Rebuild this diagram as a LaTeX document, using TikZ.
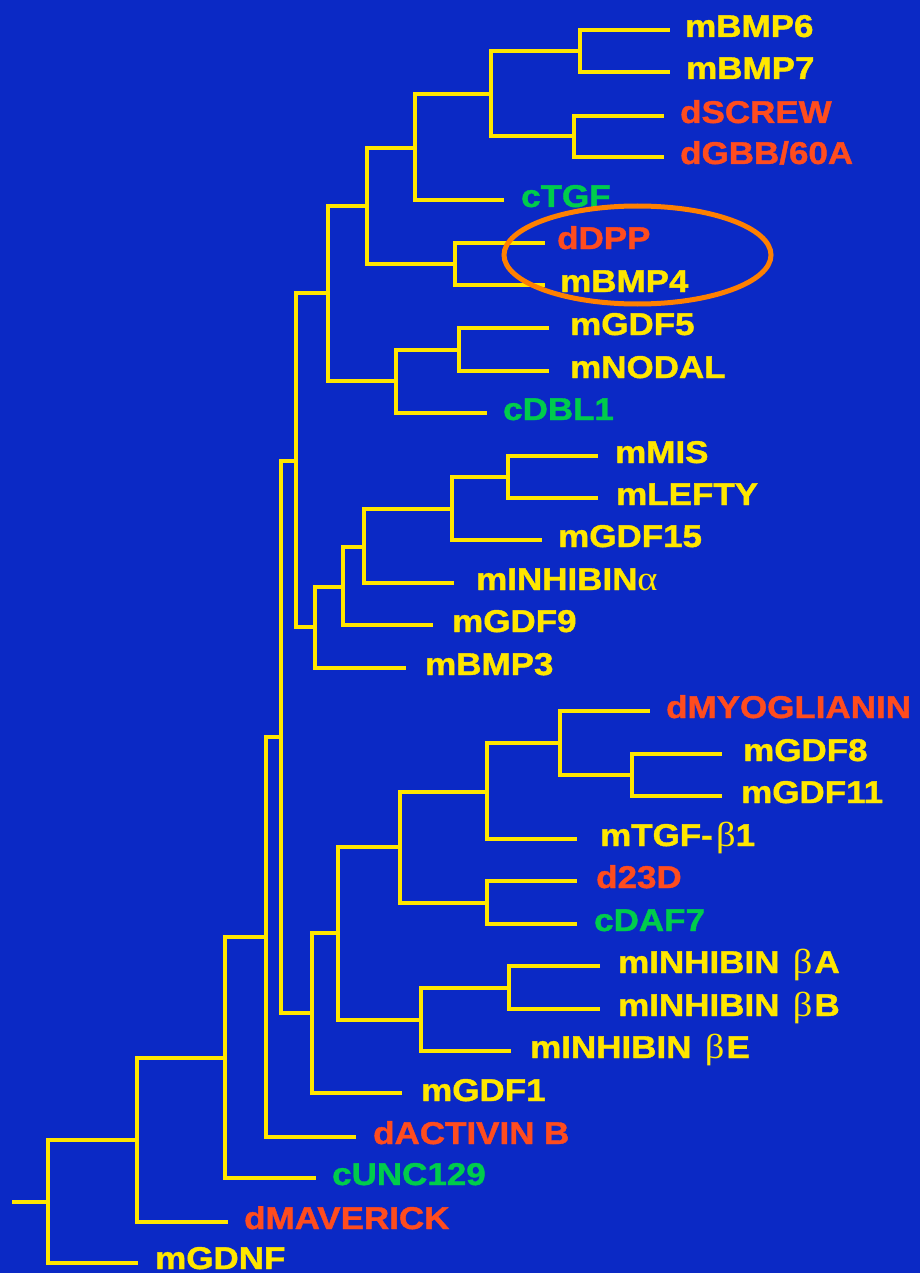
\documentclass[tikz,border=0pt]{standalone}
\usepackage{fontspec}
\setmainfont{Liberation Sans}[BoldFeatures={FakeBold=1.2}]
\newfontfamily\grk{Liberation Serif}[Scale=1.1]
\usepackage{graphicx}
\definecolor{bgblue}{RGB}{11,41,197}
\definecolor{ylw}{RGB}{255,230,0}
\definecolor{redl}{RGB}{255,76,30}
\definecolor{grn}{RGB}{0,204,76}
\definecolor{orng}{RGB}{255,128,0}
\newcommand{\lbl}[1]{\scalebox{1.11}[1]{#1}}
\newcommand{\gk}[1]{{\mdseries\grk #1}}
\tikzset{
  br/.style={draw=ylw, line width=4pt, line join=miter},
  lab/.style={anchor=base west, inner sep=0pt, font=\bfseries\fontsize{31.5}{36}\selectfont},
  ly/.style={lab, text=ylw},
  lr/.style={lab, text=redl},
  lg/.style={lab, text=grn}
}
\begin{document}
\begin{tikzpicture}[x=1pt, y=-1pt]
\fill[bgblue] (0,0) rectangle (920,1273);
\useasboundingbox (0,0) rectangle (920,1273);
% internal nodes
\coordinate (s0) at (12,1202);
\coordinate (n0) at (48,1202);
\coordinate (nA) at (137,1140);
\coordinate (nB) at (225,1058);
\coordinate (nC) at (266,937);
\coordinate (nD) at (281,737);
\coordinate (nE) at (296,461);
\coordinate (nF) at (328,293);
\coordinate (nG) at (367,206);
\coordinate (nH) at (415,148);
\coordinate (nI) at (491,94);
\coordinate (nJ) at (580,51);
\coordinate (nK) at (574,136);
\coordinate (nL) at (455,264);
\coordinate (nM) at (396,381);
\coordinate (nN) at (459,350);
\coordinate (nO) at (315,627);
\coordinate (nP) at (343,587);
\coordinate (nQ) at (364,547);
\coordinate (nS) at (452,509);
\coordinate (nT) at (508,477);
\coordinate (nU) at (312,1013);
\coordinate (nV) at (338,933);
\coordinate (nW) at (400,847);
\coordinate (nX) at (487,792);
\coordinate (nY) at (560,743);
\coordinate (nZ) at (632,775);
\coordinate (nAA) at (487,903);
\coordinate (nAB) at (421,1020);
\coordinate (nAC) at (509,988);
% leaf ends
\coordinate (e1) at (670,30);
\coordinate (e2) at (670,72);
\coordinate (e3) at (664,116);
\coordinate (e4) at (664,157);
\coordinate (e5) at (504,200);
\coordinate (e6) at (545,243);
\coordinate (e7) at (545,285);
\coordinate (e8) at (549,328);
\coordinate (e9) at (549,371);
\coordinate (e10) at (487,413);
\coordinate (e11) at (598,456);
\coordinate (e12) at (598,498);
\coordinate (e13) at (542,540);
\coordinate (e14) at (454,583);
\coordinate (e15) at (433,625);
\coordinate (e16) at (406,668);
\coordinate (e17) at (650,711);
\coordinate (e18) at (722,754);
\coordinate (e19) at (722,796);
\coordinate (e20) at (577,839);
\coordinate (e21) at (577,881);
\coordinate (e22) at (577,924);
\coordinate (e23) at (600,966);
\coordinate (e24) at (600,1009);
\coordinate (e25) at (511,1051);
\coordinate (e26) at (402,1093);
\coordinate (e27) at (356,1137);
\coordinate (e28) at (316,1178);
\coordinate (e29) at (228,1222);
\coordinate (e30) at (138,1263);
% branches
\draw[br] (s0) -- (n0);
\draw[br] (n0) |- (nA);  \draw[br] (n0) |- (e30);
\draw[br] (nA) |- (nB);  \draw[br] (nA) |- (e29);
\draw[br] (nB) |- (nC);  \draw[br] (nB) |- (e28);
\draw[br] (nC) |- (nD);  \draw[br] (nC) |- (e27);
\draw[br] (nD) |- (nE);  \draw[br] (nD) |- (nU);
\draw[br] (nE) |- (nF);  \draw[br] (nE) |- (nO);
\draw[br] (nF) |- (nG);  \draw[br] (nF) |- (nM);
\draw[br] (nG) |- (nH);  \draw[br] (nG) |- (nL);
\draw[br] (nH) |- (nI);  \draw[br] (nH) |- (e5);
\draw[br] (nI) |- (nJ);  \draw[br] (nI) |- (nK);
\draw[br] (nJ) |- (e1);  \draw[br] (nJ) |- (e2);
\draw[br] (nK) |- (e3);  \draw[br] (nK) |- (e4);
\draw[br] (nL) |- (e6);  \draw[br] (nL) |- (e7);
\draw[br] (nM) |- (nN);  \draw[br] (nM) |- (e10);
\draw[br] (nN) |- (e8);  \draw[br] (nN) |- (e9);
\draw[br] (nO) |- (nP);  \draw[br] (nO) |- (e16);
\draw[br] (nP) |- (nQ);  \draw[br] (nP) |- (e15);
\draw[br] (nQ) |- (nS);  \draw[br] (nQ) |- (e14);
\draw[br] (nS) |- (nT);  \draw[br] (nS) |- (e13);
\draw[br] (nT) |- (e11); \draw[br] (nT) |- (e12);
\draw[br] (nU) |- (nV);  \draw[br] (nU) |- (e26);
\draw[br] (nV) |- (nW);  \draw[br] (nV) |- (nAB);
\draw[br] (nW) |- (nX);  \draw[br] (nW) |- (nAA);
\draw[br] (nX) |- (nY);  \draw[br] (nX) |- (e20);
\draw[br] (nY) |- (e17); \draw[br] (nY) |- (nZ);
\draw[br] (nZ) |- (e18); \draw[br] (nZ) |- (e19);
\draw[br] (nAA) |- (e21); \draw[br] (nAA) |- (e22);
\draw[br] (nAB) |- (nAC); \draw[br] (nAB) |- (e25);
\draw[br] (nAC) |- (e23); \draw[br] (nAC) |- (e24);
% labels
\node[ly] (t1) at (685,37) {\lbl{mBMP6}};
\node[ly] (t2) at (686,79) {\lbl{mBMP7}};
\node[lr] (t3) at (680,123) {\lbl{dSCREW}};
\node[lr] (t4) at (680,164) {\lbl{dGBB/60A}};
\node[lg] (t5) at (521,207) {\lbl{cTGF}};
\node[lr] (t6) at (557,249) {\lbl{dDPP}};
\node[ly] (t7) at (560,292) {\lbl{mBMP4}};
\node[ly] (t8) at (570,335) {\lbl{mGDF5}};
\node[ly] (t9) at (570,378) {\lbl{mNODAL}};
\node[lg] (t10) at (503,420) {\lbl{cDBL1}};
\node[ly] (t11) at (615,463) {\lbl{mMIS}};
\node[ly] (t12) at (616,505) {\lbl{mLEFTY}};
\node[ly] (t13) at (558,547) {\lbl{mGDF15}};
\node[ly] (t14) at (476,590) {\lbl{mINHIBIN\gk{α}}};
\node[ly] (t15) at (452,632) {\lbl{mGDF9}};
\node[ly] (t16) at (425,675) {\lbl{mBMP3}};
\node[lr] (t17) at (666,718) {\lbl{dMYOGLIANIN}};
\node[ly] (t18) at (743,761) {\lbl{mGDF8}};
\node[ly] (t19) at (741,803) {\lbl{mGDF11}};
\node[ly] (t20) at (600,846) {\lbl{mTGF-\hspace{3pt}\gk{β}1}};
\node[lr] (t21) at (596,888) {\lbl{d23D}};
\node[lg] (t22) at (594,931) {\lbl{cDAF7}};
\node[ly] (t23) at (618,973) {\lbl{mINHIBIN\hspace{12pt}\gk{β}\hspace{2pt}A}};
\node[ly] (t24) at (618,1016) {\lbl{mINHIBIN\hspace{12pt}\gk{β}\hspace{2pt}B}};
\node[ly] (t25) at (530,1058) {\lbl{mINHIBIN\hspace{12pt}\gk{β}\hspace{2pt}E}};
\node[ly] (t26) at (421,1101) {\lbl{mGDF1}};
\node[lr] (t27) at (373,1144) {\lbl{dACTIVIN B}};
\node[lg] (t28) at (332,1185) {\lbl{cUNC129}};
\node[lr] (t29) at (244,1229) {\lbl{dMAVERICK}};
\node[ly] (t30) at (155,1269) {\lbl{mGDNF}};
% highlight
\draw[orng, line width=5pt] (637.5,255) ellipse [x radius=133.5, y radius=49];
\end{tikzpicture}
\end{document}
